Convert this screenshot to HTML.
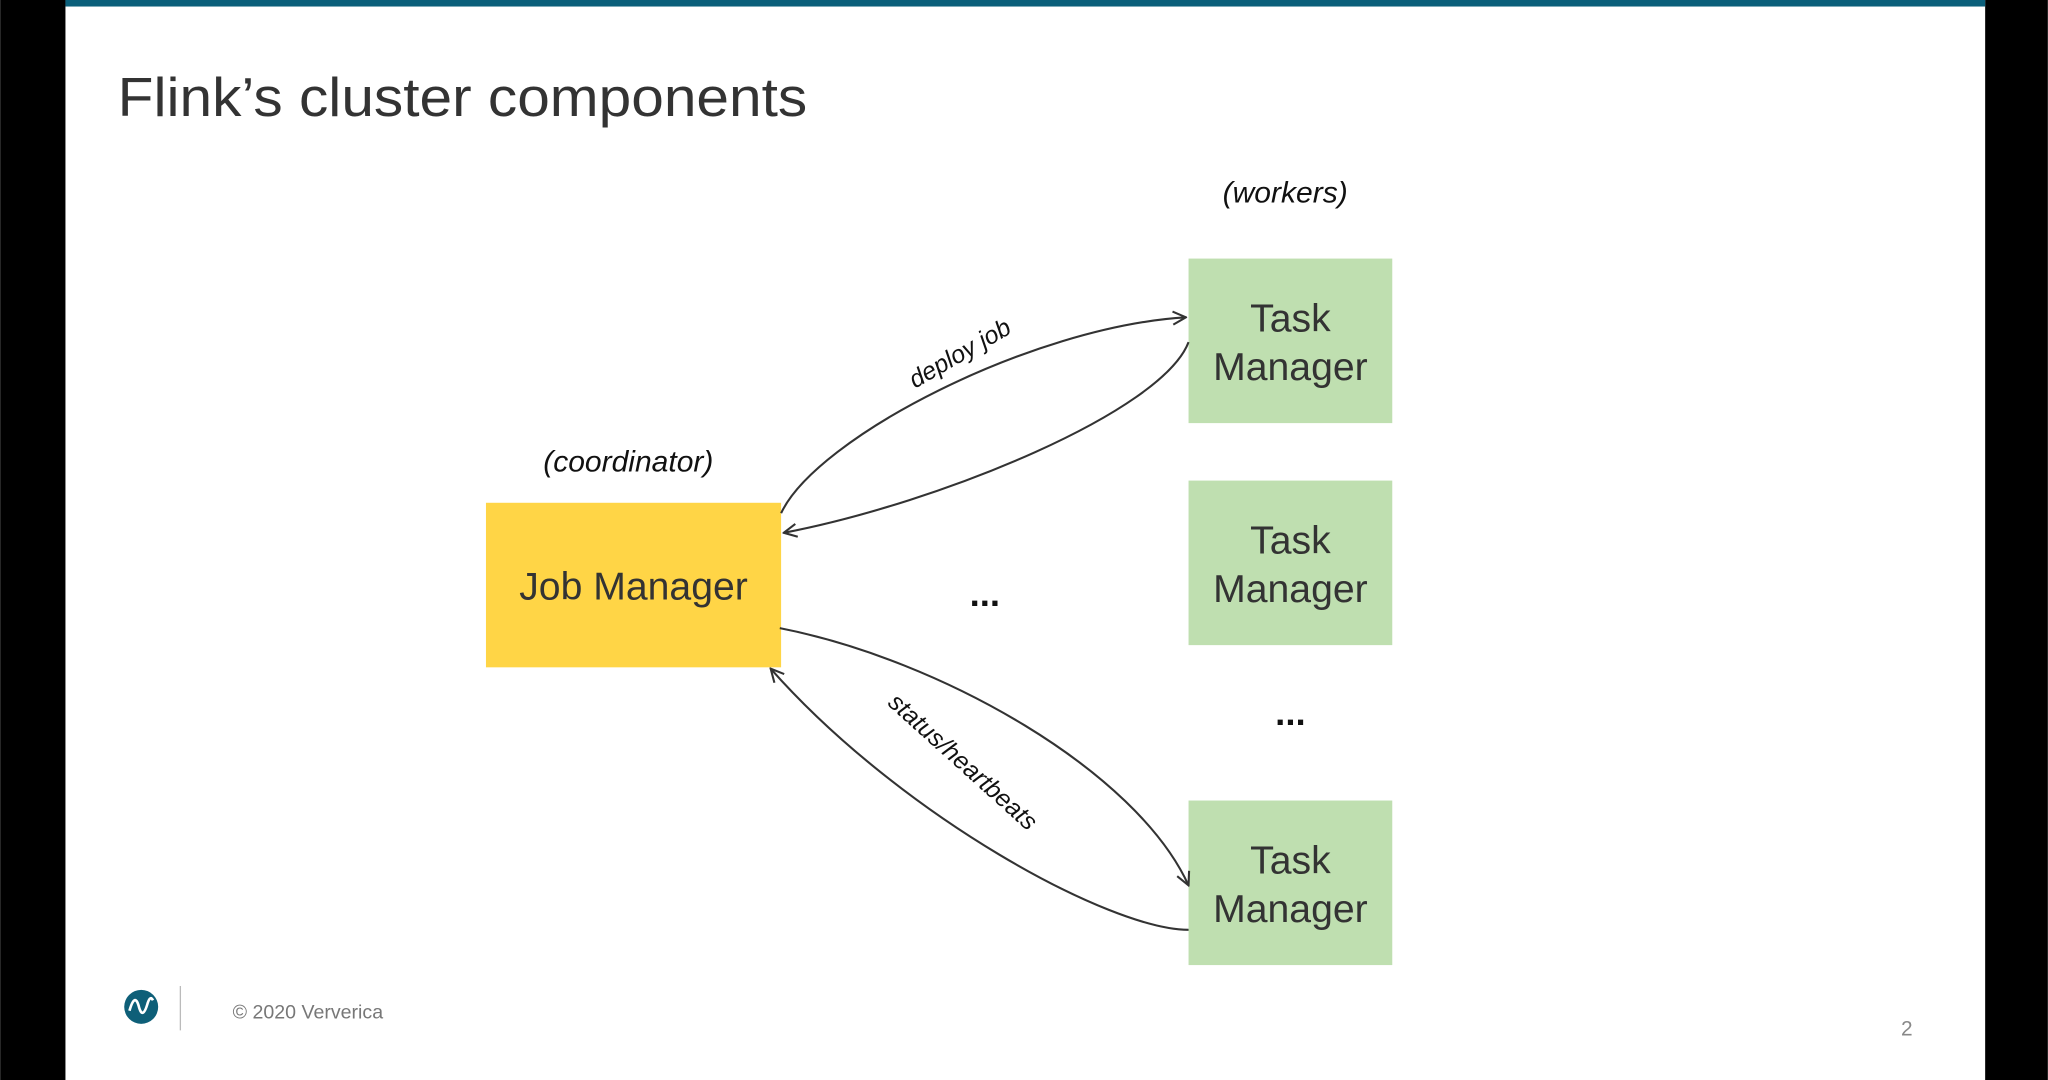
<!DOCTYPE html>
<html><head><meta charset="utf-8"><style>
html,body{margin:0;padding:0;background:#fff;}
svg{display:block;}
</style></head><body>
<svg width="2048" height="1080" viewBox="0 0 1568 827" xmlns="http://www.w3.org/2000/svg" font-family="Liberation Sans, sans-serif">
<defs>
<marker id="ah" viewBox="0 0 12 12" refX="11" refY="6" markerWidth="12" markerHeight="12" markerUnits="userSpaceOnUse" orient="auto">
<path d="M1,1 L11,6 L1,11" fill="none" stroke="#333" stroke-width="1.6"/>
</marker>
</defs>
<rect x="0" y="0" width="1568" height="827" fill="#fff"/>
<rect x="0" y="0" width="50" height="827" fill="#000"/>
<rect x="1520" y="0" width="48" height="827" fill="#000"/>
<rect x="50" y="0" width="1470" height="5" fill="#0b5f7a"/>

<text x="90" y="89" font-size="42" fill="#333" textLength="528" lengthAdjust="spacingAndGlyphs">Flink’s cluster components</text>

<text x="984" y="155" font-size="23" font-style="italic" fill="#111" text-anchor="middle">(workers)</text>
<text x="481" y="361" font-size="23" font-style="italic" fill="#111" text-anchor="middle">(coordinator)</text>

<rect x="910" y="198" width="156" height="126" fill="#bfdfb0"/>
<rect x="910" y="368" width="156" height="126" fill="#bfdfb0"/>
<rect x="910" y="613" width="156" height="126" fill="#bfdfb0"/>
<rect x="372" y="385" width="226" height="126" fill="#ffd546"/>

<g font-size="30" fill="#333" text-anchor="middle">
<text x="988" y="254">Task</text><text x="988" y="291">Manager</text>
<text x="988" y="424">Task</text><text x="988" y="461">Manager</text>
<text x="988" y="669">Task</text><text x="988" y="706">Manager</text>
<text x="485" y="459">Job Manager</text>
</g>
<text x="754" y="464" font-size="28" font-weight="bold" fill="#111" text-anchor="middle">...</text>
<text x="988" y="555" font-size="28" font-weight="bold" fill="#111" text-anchor="middle">...</text>

<g fill="none" stroke="#333" stroke-width="1.6">
<path d="M598,393 C625,335 790,250 908,243" marker-end="url(#ah)"/>
<path d="M910,262 C890,315 720,385 600,408" marker-end="url(#ah)"/>
<path d="M597,481 C720,505 870,590 910,678" marker-end="url(#ah)"/>
<path d="M910,712 C850,712 690,625 590,512" marker-end="url(#ah)"/>
</g>
<text transform="translate(738,276) rotate(-30)" font-size="19" font-style="italic" fill="#111" text-anchor="middle">deploy job</text>
<text transform="translate(733,588) rotate(42)" font-size="19" font-style="italic" fill="#111" text-anchor="middle">status/heartbeats</text>

<circle cx="108" cy="771" r="13" fill="#0e5f78"/>
<path d="M99,774 Q103,760 106,770 Q109,782 113,768 Q115,762 117,766" fill="none" stroke="#fff" stroke-width="2"/>
<line x1="138" y1="755" x2="138" y2="789" stroke="#bbb" stroke-width="1"/>
<text x="178" y="780" font-size="15" fill="#777">© 2020 Ververica</text>
<text x="1460" y="793" font-size="16" fill="#888" text-anchor="middle">2</text>
</svg>
</body></html>
